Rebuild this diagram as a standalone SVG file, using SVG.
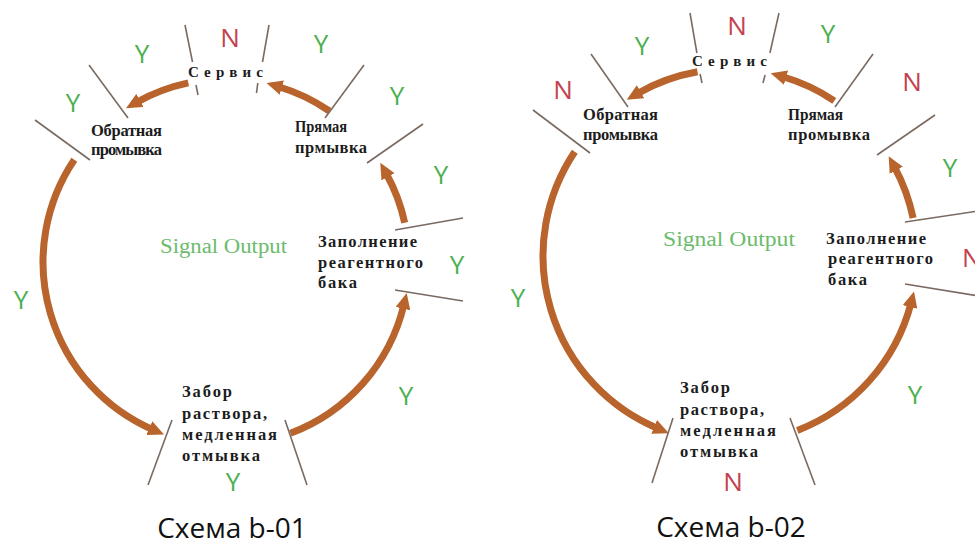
<svg xmlns="http://www.w3.org/2000/svg" width="975" height="546" viewBox="0 0 975 546">
<style>
.node{font-family:"Liberation Serif","Times New Roman",serif;font-weight:bold;font-size:16.5px;fill:#1c1c1c}
.svc{font-size:15px}
.tick{stroke:#7a6a60;stroke-width:1.6;fill:none}
.arr{stroke:#b8642c;stroke-width:7;fill:none;marker-end:url(#ah)}
.y{font-family:"Open Sans","Noto Sans",sans-serif;font-size:26px;fill:#4caf50;text-anchor:middle}
.n{font-family:"Open Sans","Noto Sans",sans-serif;font-size:26px;fill:#c4424f;text-anchor:middle}
.sig{font-family:"Liberation Serif","Times New Roman",serif;font-size:20px;fill:#6cbb6c}
.cap{font-family:"Open Sans","Noto Sans",sans-serif;font-size:28px;fill:#111;text-anchor:middle}
</style>
<defs>
<marker id="ah" markerUnits="userSpaceOnUse" viewBox="0 0 16 15" markerWidth="16" markerHeight="15" refX="4" refY="7.5" orient="auto">
<path d="M0,0 L16,7.5 L0,15 z" fill="#b8642c"/>
</marker>
</defs>
<rect width="975" height="546" fill="#ffffff"/>

<!-- Diagram b-01 -->
<g id="d1-connectors">
<path class="arr" d="M329.4,111 A183,183 0 0 0 278,86.5"/>
<path class="arr" d="M188.3,82.9 A183,183 0 0 0 136.5,102.4"/>
<path class="arr" d="M74.3,159.7 A183,183 0 0 0 153,429.8"/>
<path class="arr" d="M290.4,433.3 A183,183 0 0 0 403.9,304.7"/>
<path class="arr" d="M404.7,222.7 A183,183 0 0 0 386.1,173.3"/>
</g>
<g id="d1-ticks">
<path class="tick" d="M185,25 L192.5,62 M196,85 L198,95"/>
<path class="tick" d="M269,25 L262.5,62 M257.8,83 L256.5,93"/>
<path class="tick" d="M89,65 L128,118"/>
<path class="tick" d="M35,120 L90,160"/>
<path class="tick" d="M364,65 L325,118"/>
<path class="tick" d="M423,124 L367,163"/>
<path class="tick" d="M395,230 L463,218"/>
<path class="tick" d="M395,290 L463,301"/>
<path class="tick" d="M172,420 L148,485"/>
<path class="tick" d="M285,420 L307,485"/>
</g>
<g id="d1-service"><text class="node svc" x="188" y="77" textLength="75" lengthAdjust="spacing">Сервис</text></g>
<g id="d1-backwash"><text class="node" x="91" y="136" textLength="71" lengthAdjust="spacing">Обратная</text><text class="node" x="91" y="155" textLength="71" lengthAdjust="spacing">промывка</text></g>
<g id="d1-forwardwash"><text class="node" x="295" y="132" textLength="52" lengthAdjust="spacingAndGlyphs">Прямая</text><text class="node" x="295" y="153" textLength="72" lengthAdjust="spacing">прмывка</text></g>
<g id="d1-fill"><text class="node" x="318" y="247" textLength="99" lengthAdjust="spacing">Заполнение</text><text class="node" x="318" y="268" textLength="105" lengthAdjust="spacing">реагентного</text><text class="node" x="318" y="288" textLength="39" lengthAdjust="spacing">бака</text></g>
<g id="d1-intake"><text class="node" x="182" y="397" textLength="50" lengthAdjust="spacing">Забор</text><text class="node" x="182" y="419" textLength="85" lengthAdjust="spacing">раствора,</text><text class="node" x="182" y="440" textLength="95" lengthAdjust="spacing">медленная</text><text class="node" x="182" y="461" textLength="78" lengthAdjust="spacing">отмывка</text></g>
<g id="d1-signal"><text class="sig" x="160" y="253" textLength="127" lengthAdjust="spacingAndGlyphs">Signal Output</text></g>
<g id="d1-labels">
<text class="n" x="230" y="47">N</text>
<text class="y" x="142" y="63">Y</text>
<text class="y" x="321" y="53">Y</text>
<text class="y" x="73" y="112">Y</text>
<text class="y" x="397" y="105">Y</text>
<text class="y" x="441" y="184">Y</text>
<text class="y" x="457" y="274">Y</text>
<text class="y" x="21" y="309">Y</text>
<text class="y" x="406" y="405">Y</text>
<text class="y" x="233" y="491">Y</text>
</g>
<text class="cap" x="232" y="538">Схема b-01</text>

<!-- Diagram b-02 -->
<g id="d2-connectors">
<path class="arr" d="M834.3,100.8 A187,187 0 0 0 782.2,76.5"/>
<path class="arr" d="M697.5,71.8 A187,187 0 0 0 637.1,93.7"/>
<path class="arr" d="M574.8,151.7 A187,187 0 0 0 657.8,428.5"/>
<path class="arr" d="M797.3,430.5 A187,187 0 0 0 911,303.1"/>
<path class="arr" d="M913.1,218 A187,187 0 0 0 894.4,166.8"/>
</g>
<g id="d2-ticks">
<path class="tick" d="M690,13 L696.9,53 M700.1,74 L702,83"/>
<path class="tick" d="M779,13 L769.9,53 M765.1,75 L763,83"/>
<path class="tick" d="M591,54 L628,107"/>
<path class="tick" d="M533,110 L590,153"/>
<path class="tick" d="M873,54 L835,107"/>
<path class="tick" d="M935,115 L877,155"/>
<path class="tick" d="M905,222 L985,210"/>
<path class="tick" d="M905,284 L985,297"/>
<path class="tick" d="M673,418 L652,483"/>
<path class="tick" d="M790,418 L815,485"/>
</g>
<g id="d2-service"><text class="node svc" x="692" y="66" textLength="75" lengthAdjust="spacing">Сервис</text></g>
<g id="d2-backwash"><text class="node" x="583" y="120" textLength="75" lengthAdjust="spacing">Обратная</text><text class="node" x="583" y="140" textLength="75" lengthAdjust="spacing">промывка</text></g>
<g id="d2-forwardwash"><text class="node" x="788" y="120" textLength="55" lengthAdjust="spacingAndGlyphs">Прямая</text><text class="node" x="788" y="140" textLength="82" lengthAdjust="spacing">промывка</text></g>
<g id="d2-fill"><text class="node" x="826" y="244" textLength="100" lengthAdjust="spacing">Заполнение</text><text class="node" x="828" y="264" textLength="105" lengthAdjust="spacing">реагентного</text><text class="node" x="828" y="285" textLength="39" lengthAdjust="spacing">бака</text></g>
<g id="d2-intake"><text class="node" x="680" y="393" textLength="50" lengthAdjust="spacing">Забор</text><text class="node" x="680" y="415" textLength="84" lengthAdjust="spacing">раствора,</text><text class="node" x="680" y="436" textLength="96" lengthAdjust="spacing">медленная</text><text class="node" x="680" y="457" textLength="78" lengthAdjust="spacing">отмывка</text></g>
<g id="d2-signal"><text class="sig" x="663" y="246" textLength="132" lengthAdjust="spacingAndGlyphs">Signal Output</text></g>
<g id="d2-labels">
<text class="n" x="737" y="35">N</text>
<text class="y" x="828" y="43">Y</text>
<text class="y" x="642" y="55">Y</text>
<text class="n" x="563" y="99">N</text>
<text class="n" x="912" y="91">N</text>
<text class="y" x="950" y="177">Y</text>
<text class="n" x="962" y="267" style="text-anchor:start">N</text>
<text class="y" x="518" y="307">Y</text>
<text class="y" x="915" y="404">Y</text>
<text class="n" x="733" y="491">N</text>
</g>
<text class="cap" x="731" y="537">Схема b-02</text>
</svg>
